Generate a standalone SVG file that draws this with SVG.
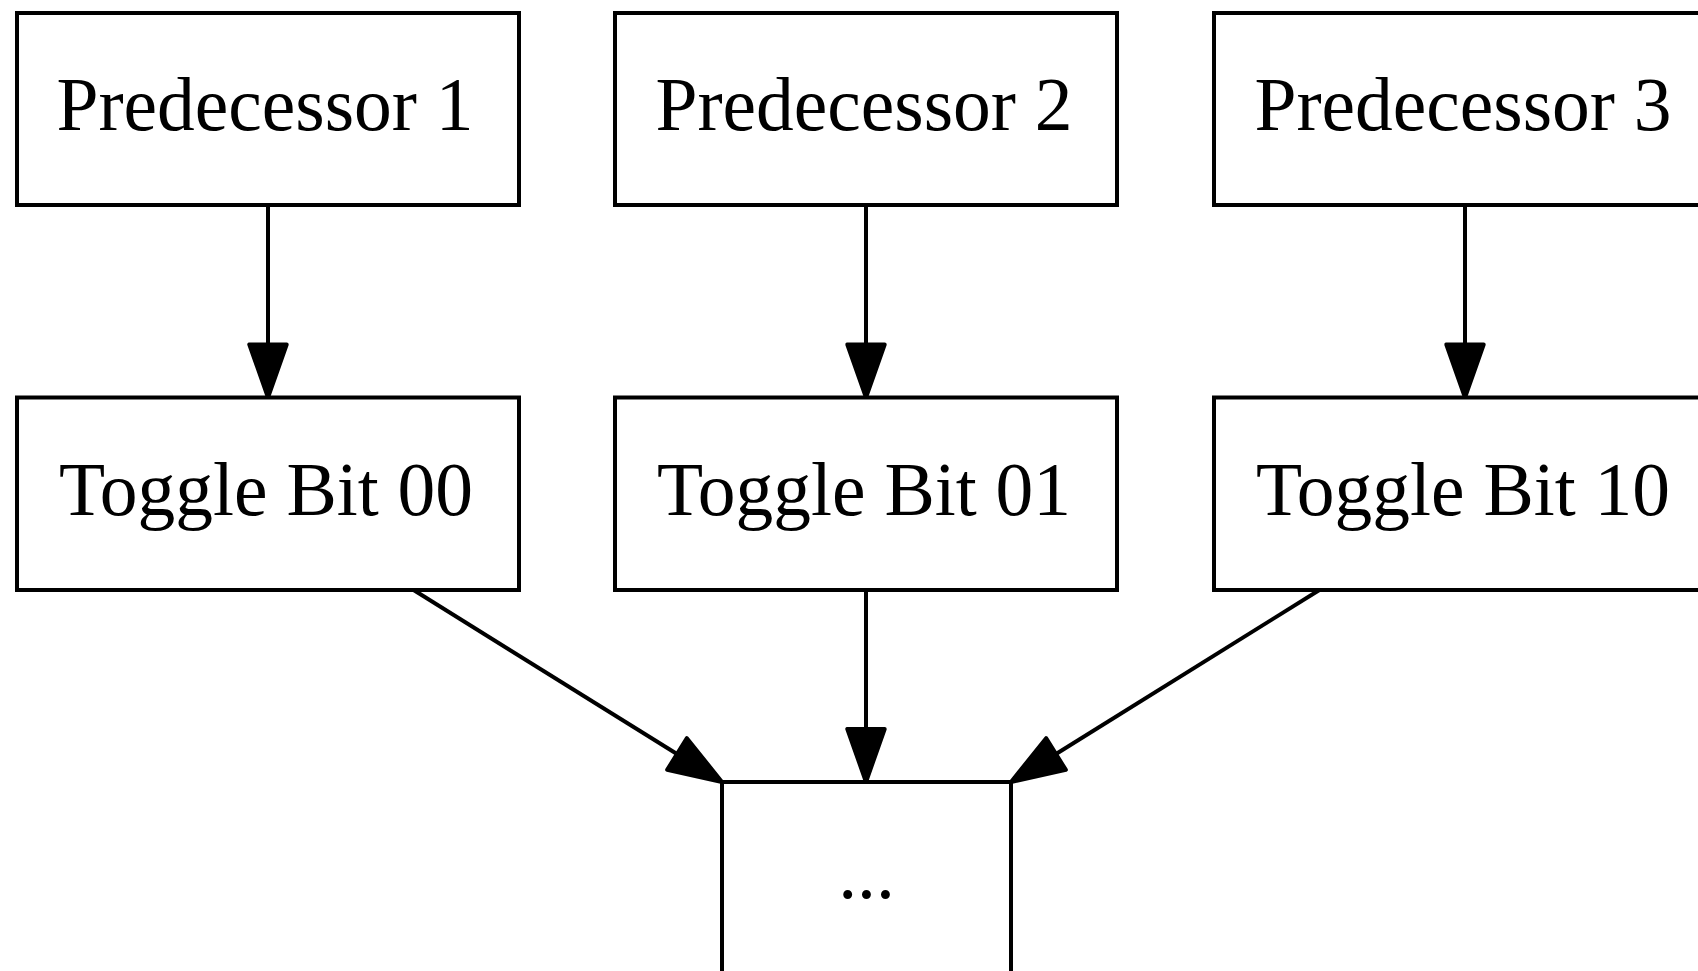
<svg xmlns="http://www.w3.org/2000/svg" width="1698" height="971" viewBox="0 0 1698 971">
<style>
  .node rect { fill: #ffffff; stroke: #000000; stroke-width: 4; }
  .node text { font-family: "Liberation Serif", "Times New Roman", serif; font-size: 75.5px; fill: #000000; text-anchor: middle; }
  .edge { fill: none; stroke: #000000; stroke-width: 4; }
</style>
<defs>
  <marker id="arrow" markerUnits="userSpaceOnUse" markerWidth="60" markerHeight="40" refX="0" refY="18.7" orient="auto" overflow="visible">
    <path d="M0,0 L53,18.7 L0,37.4 Z" fill="#000000" stroke="#000000" stroke-width="4" stroke-linejoin="round"/>
  </marker>
</defs>
<rect x="0" y="0" width="1698" height="971" fill="#ffffff"/>
<g id="connectors">
  <line class="edge" x1="268" y1="205" x2="268" y2="344.5" marker-end="url(#arrow)"/>
  <line class="edge" x1="866" y1="205" x2="866" y2="344.5" marker-end="url(#arrow)"/>
  <line class="edge" x1="1465" y1="205" x2="1465" y2="344.5" marker-end="url(#arrow)"/>
  <line class="edge" x1="866" y1="590" x2="866" y2="729" marker-end="url(#arrow)"/>
  <line class="edge" x1="413.6" y1="590" x2="677" y2="754" marker-end="url(#arrow)"/>
  <line class="edge" x1="1319.4" y1="590" x2="1056" y2="754" marker-end="url(#arrow)"/>
</g>
<g id="pred1" class="node">
  <rect x="17" y="13" width="502" height="192"/>
  <text x="265" y="130">Predecessor 1</text>
</g>
<g id="pred2" class="node">
  <rect x="615" y="13" width="502" height="192"/>
  <text x="864" y="130">Predecessor 2</text>
</g>
<g id="pred3" class="node">
  <rect x="1214" y="13" width="502" height="192"/>
  <text x="1463" y="130">Predecessor 3</text>
</g>
<g id="toggle00" class="node">
  <rect x="17" y="397.5" width="502" height="192.5"/>
  <text x="266" y="514.5">Toggle Bit 00</text>
</g>
<g id="toggle01" class="node">
  <rect x="615" y="397.5" width="502" height="192.5"/>
  <text x="864" y="514.5">Toggle Bit 01</text>
</g>
<g id="toggle10" class="node">
  <rect x="1214" y="397.5" width="502" height="192.5"/>
  <text x="1463" y="514.5">Toggle Bit 10</text>
</g>
<g id="ellipsis" class="node">
  <rect x="722" y="782" width="289" height="192"/>
  <text x="866.5" y="898">...</text>
</g>
</svg>
